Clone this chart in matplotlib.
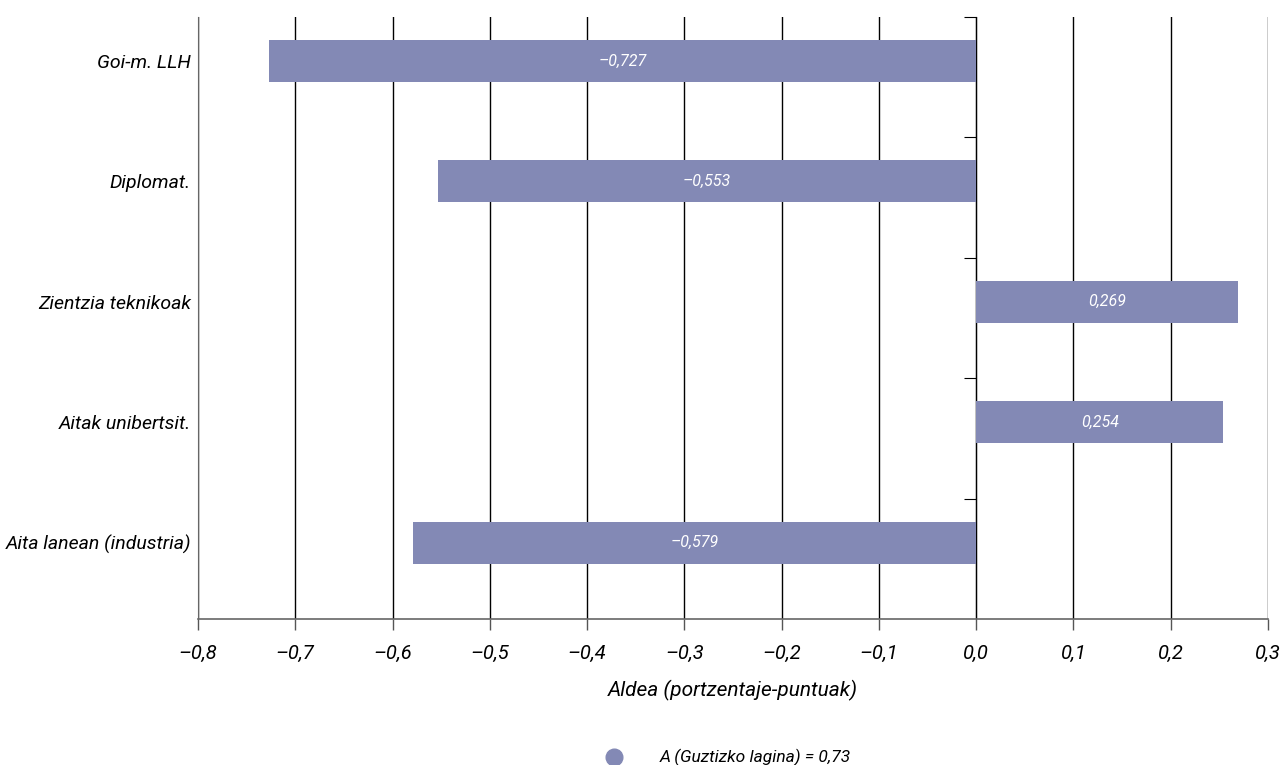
import numpy as np
import matplotlib.pyplot as plt
from matplotlib import font_manager

# data
categories = ['Goi-m. LLH', 'Diplomat.', 'Zientzia teknikoak', 'Aitak unibertsit.', 'Aita lanean (industria)']
values = [-0.727, -0.553, 0.269, 0.254, -0.579]
xticks = [-0.8, -0.7, -0.6, -0.5, -0.4, -0.3, -0.2, -0.1, 0.0, 0.1, 0.2, 0.3]
legend_label = 'A (Guztizko lagina) = 0,73'
xlabel = 'Aldea (portzentaje-puntuak)'

names = {f.name for f in font_manager.fontManager.ttflist}
fam = ['Liberation Sans Narrow'] if 'Liberation Sans Narrow' in names else ['Roboto']
plt.rcParams['font.family'] = fam + ['DejaVu Sans']
plt.rcParams['font.style'] = 'italic'

bar_color = '#8389b5'

def fmt(v, nd=1):
    s = ('%.' + str(nd) + 'f') % abs(v)
    s = s.replace('.', ',')
    return ('\u2013' + s) if v < -1e-9 else s

fig = plt.figure(figsize=(12.83, 7.65), dpi=100)
ax = fig.add_axes([0.1543, 0.1908, 0.8340, 0.7870])

y = np.arange(len(categories))
ax.barh(y, values, height=0.35, color=bar_color, zorder=3)
for yi, v in zip(y, values):
    ax.text(v / 2, yi, fmt(v, 3), ha='center', va='center', color='white',
            fontsize=11.5, style='italic', zorder=4)

ax.set_xlim(-0.8, 0.3)
ax.set_ylim(4.635, -0.365)
ax.set_xticks(xticks)
ax.set_xticklabels([fmt(t) for t in xticks], fontsize=14.5)
ax.set_yticks(y)
ax.set_yticklabels(categories, fontsize=14)
ax.tick_params(axis='y', length=0, pad=5)
ax.tick_params(axis='x', length=8, width=1, color='#555555', pad=10)

ax.grid(axis='x', color='black', linewidth=1, zorder=1)
for s in ['top', 'right']:
    ax.spines[s].set_visible(False)
ax.spines['left'].set_color('#666666')
ax.spines['bottom'].set_color('#666666')
ax.spines['bottom'].set_linewidth(1.2)

# zero axis with category separators (ticks pointing left)
zero_pos = (0 - (-0.8)) / 1.1
sec = ax.secondary_yaxis(zero_pos)
sec.set_yticks(np.arange(-0.365, len(categories) - 0.5, 1.0))
sec.tick_params(axis='y', direction='in', length=9, labelleft=False, labelright=False, color='black')
sec.spines['left'].set_color('#555555')
sec.spines['left'].set_linewidth(1.5)

ax.set_xlabel(xlabel, fontsize=15, labelpad=12)

# legend
fig.add_artist(plt.Line2D([0.4786], [0.0105], marker='o', markersize=12,
                          color=bar_color, linestyle='none', transform=fig.transFigure))
fig.text(0.5144, 0.0105, legend_label, fontsize=12.5, ha='left', va='center', style='italic')

fig.savefig('out.png', dpi=100)
